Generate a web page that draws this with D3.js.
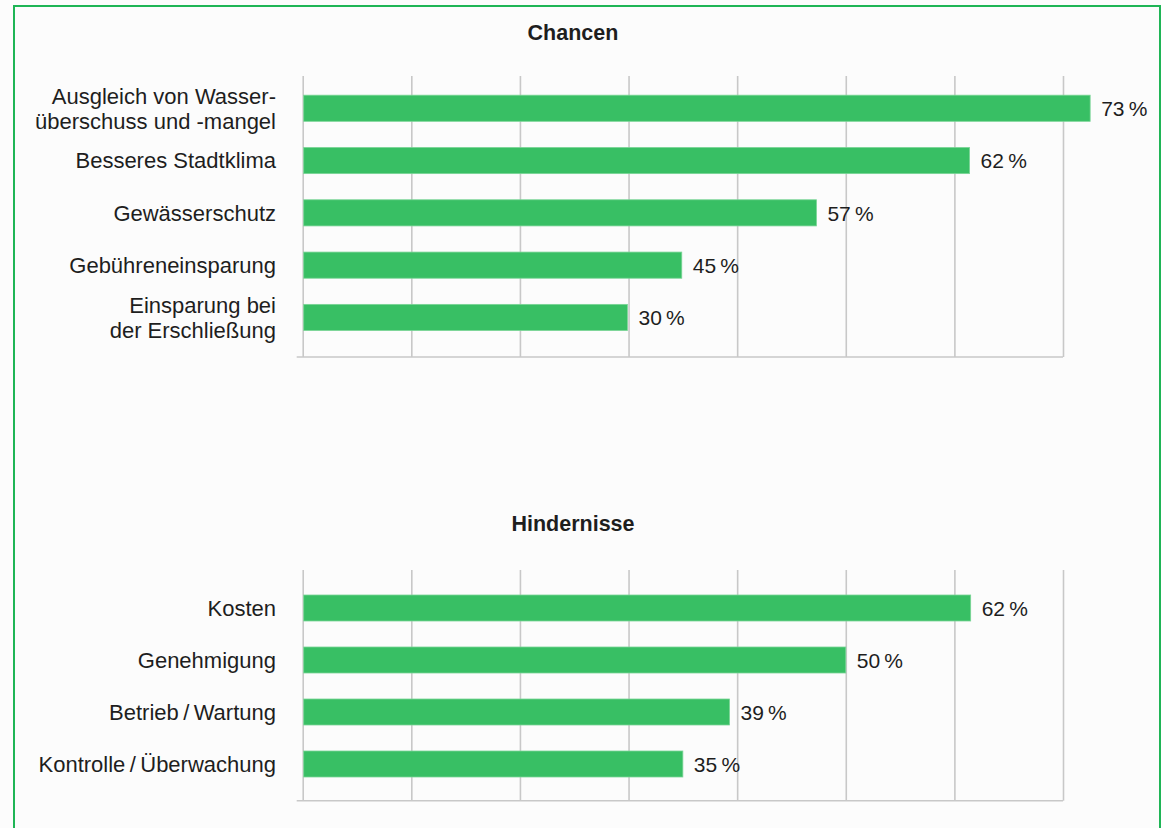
<!DOCTYPE html>
<html>
<head>
<meta charset="utf-8">
<script src="https://cdn.jsdelivr.net/npm/d3@7"></script>
<style>
    body { margin: 0; background: #fcfcfc; }
    svg { display: block; font-family: "Liberation Sans", Arial, sans-serif; }
</style>
</head>
<body>
<svg id="chart" width="1161" height="828"></svg>
<script>
"use strict";

// Chancen
const chancenCategories = ["Ausgleich von Wasser-\nüberschuss und -mangel", "Besseres Stadtklima", "Gewässerschutz", "Gebühreneinsparung", "Einsparung bei\nder Erschließung"];
const chancenValues = [72.5, 61.4, 47.3, 34.9, 29.9];
const chancenLabels = ["73\u202F%", "62\u202F%", "57\u202F%", "45\u202F%", "30\u202F%"];

// Hindernisse
const hindernisseCategories = ["Kosten", "Genehmigung", "Betrieb\u202F/\u202FWartung", "Kontrolle\u202F/\u202FÜberwachung"];
const hindernisseValues = [61.5, 50, 39.3, 35];
const hindernisseLabels = ["62\u202F%", "50\u202F%", "39\u202F%", "35\u202F%"];

const gridTicks = [0, 10, 20, 30, 40, 50, 60, 70];

const BAR_COLOR = "#38bf64",
    GRID_COLOR = "#c8c8c8",
    TEXT_COLOR = "#1e1e1e";

const svg = d3.select("#chart");

// green frame, open at the bottom
svg.append("rect")
    .attr("x", 14)
    .attr("y", 6)
    .attr("width", 1146)
    .attr("height", 840)
    .attr("fill", "none")
    .attr("stroke", "#1fb556")
    .attr("stroke-width", 2);

const x = d3.scaleLinear().domain([0, 70]).range([302.7, 1063]);

function drawPanel(opts) {
    const g = svg.append("g");

    const y = d3.scaleBand()
        .domain(opts.categories)
        .range(opts.bandRange)
        .paddingInner(0.5)
        .paddingOuter(0.25);

    g.append("text")
        .attr("x", 573)
        .attr("y", opts.titleY)
        .attr("text-anchor", "middle")
        .attr("font-size", "21.5px")
        .attr("font-weight", "bold")
        .attr("fill", TEXT_COLOR)
        .text(opts.title);

    // grid
    const grid = g.append("g")
        .attr("transform", `translate(0,${opts.axisY})`)
        .call(d3.axisBottom(x)
            .tickValues(gridTicks)
            .tickSize(-(opts.axisY - opts.gridTop))
            .tickFormat(""));
    grid.select(".domain").remove();
    grid.selectAll(".tick line")
        .attr("stroke", GRID_COLOR)
        .attr("stroke-width", 1.6);

    g.append("line")
        .attr("x1", x(0) - 6)
        .attr("x2", x(70))
        .attr("y1", opts.axisY)
        .attr("y2", opts.axisY)
        .attr("stroke", GRID_COLOR)
        .attr("stroke-width", 1.6);

    const rows = opts.categories.map((c, i) => ({ cat: c, value: opts.values[i], label: opts.labels[i] }));

    g.selectAll("rect.bar")
        .data(rows)
        .enter()
        .append("rect")
        .attr("class", "bar")
        .attr("x", x(0) + 1)
        .attr("y", d => y(d.cat))
        .attr("width", d => x(d.value) - x(0) - 1)
        .attr("height", y.bandwidth())
        .attr("fill", BAR_COLOR)
        .attr("stroke", "#7ad596")
        .attr("stroke-width", 0.8);

    g.selectAll("text.value")
        .data(rows)
        .enter()
        .append("text")
        .attr("class", "value")
        .attr("x", d => x(d.value) + 11)
        .attr("y", d => y(d.cat) + y.bandwidth() / 2 + 7.8)
        .attr("font-size", "21px")
        .attr("fill", TEXT_COLOR)
        .text(d => d.label);

    const cats = g.selectAll("text.cat")
        .data(rows)
        .enter()
        .append("text")
        .attr("class", "cat")
        .attr("text-anchor", "end")
        .attr("font-size", "22px")
        .attr("fill", TEXT_COLOR);

    cats.each(function (d) {
        const lines = d.cat.split("\n");
        const mid = y(d.cat) + y.bandwidth() / 2 + 7.8;
        d3.select(this).selectAll("tspan")
            .data(lines)
            .enter()
            .append("tspan")
            .attr("x", 276)
            .attr("y", (l, i) => mid + (i - (lines.length - 1) / 2) * 25)
            .text(l => l);
    });
}

drawPanel({
    title: "Chancen",
    titleY: 40,
    categories: chancenCategories,
    values: chancenValues,
    labels: chancenLabels,
    bandRange: [82.1, 343.6],
    gridTop: 76,
    axisY: 357
});

drawPanel({
    title: "Hindernisse",
    titleY: 531,
    categories: hindernisseCategories,
    values: hindernisseValues,
    labels: hindernisseLabels,
    bandRange: [582, 790],
    gridTop: 570,
    axisY: 800.7
});
</script>
</body>
</html>
